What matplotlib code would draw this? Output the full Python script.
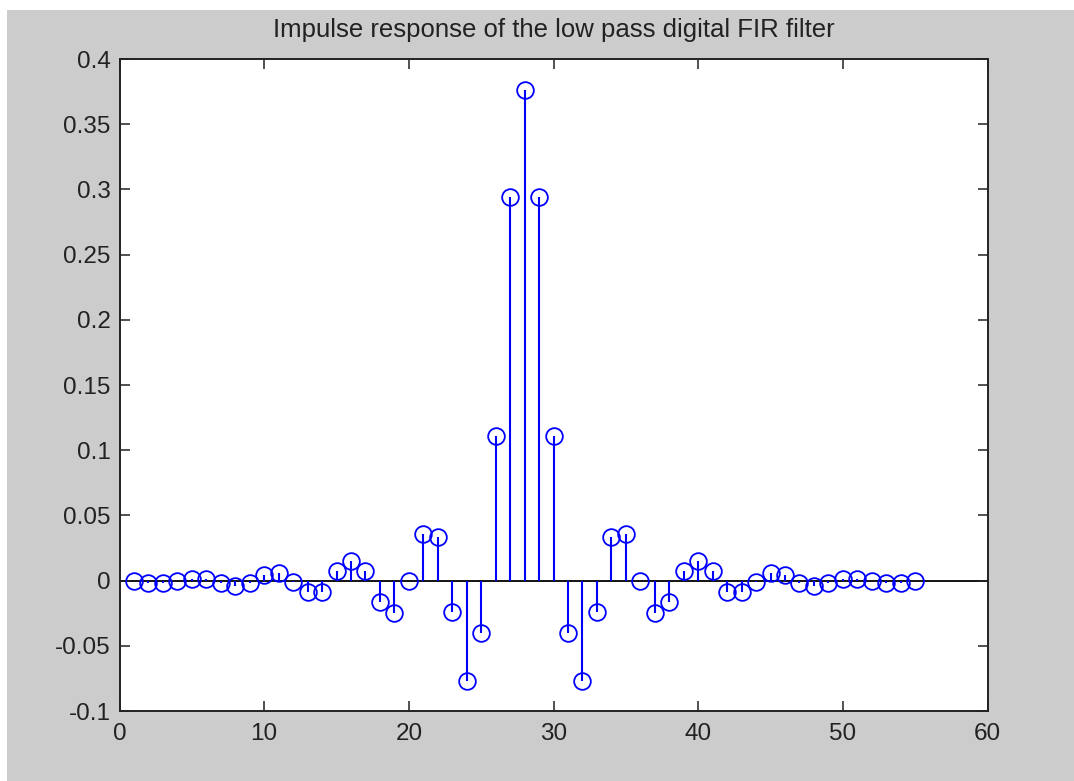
import matplotlib
matplotlib.use("Agg")
import matplotlib.pyplot as plt
from matplotlib.patches import Rectangle

# Filter tap index and impulse response coefficients
n = list(range(1, 56))
h = [0.0, -0.002, -0.002, 0.0, 0.001, 0.001, -0.0015, -0.0045, -0.0015, 0.004,
     0.0062, -0.001, -0.009, -0.009, 0.007, 0.015, 0.0077, -0.0167, -0.0246, 0.0,
     0.036, 0.0338, -0.024, -0.077, -0.040, 0.111, 0.294, 0.376, 0.294, 0.111,
     -0.040, -0.077, -0.024, 0.0338, 0.036, 0.0, -0.0246, -0.0167, 0.0077, 0.015,
     0.007, -0.009, -0.009, -0.001, 0.0062, 0.004, -0.0015, -0.0045, -0.0015, 0.001,
     0.001, 0.0, -0.002, -0.002, 0.0]

title = "Impulse response of the low pass digital FIR filter"
xticks = [0, 10, 20, 30, 40, 50, 60]
yticks = [-0.1, -0.05, 0, 0.05, 0.1, 0.15, 0.2, 0.25, 0.3, 0.35, 0.4]
ytick_labels = ["-0.1", "-0.05", "0", "0.05", "0.1", "0.15", "0.2", "0.25", "0.3", "0.35", "0.4"]

plt.rcParams["font.family"] = ["Liberation Sans", "DejaVu Sans"]

W, H = 1074, 781
fig = plt.figure(figsize=(W / 100, H / 100), dpi=100)
fig.patch.set_facecolor("white")
fig.patches.append(Rectangle((7 / W, 0), 1 - 7 / W, 1 - 10 / H,
                             transform=fig.transFigure, facecolor="#cccccc",
                             edgecolor="none", zorder=-10))

ax = fig.add_axes([119.5 / W, 1 - 711 / H, (987.5 - 119.5) / W, (711 - 59) / H])
ax.set_facecolor("white")

markerline, stemlines, baseline = ax.stem(n, h, linefmt="-", markerfmt="o", basefmt=" ")
stemlines.set_color("#0000ff")
stemlines.set_linewidth(1.5)
markerline.set_markerfacecolor("none")
markerline.set_markeredgecolor("#0000ff")
markerline.set_markersize(12)
markerline.set_markeredgewidth(1.3)
ax.axhline(0, color="black", linewidth=1.3, zorder=1)

ax.set_xlim(0, 60)
ax.set_ylim(-0.1, 0.4)
ax.set_xticks(xticks)
ax.set_yticks(yticks)
ax.set_yticklabels(ytick_labels)
ax.tick_params(direction="in", length=7, width=1.1, top=True, right=True,
               labelsize=17.5, colors="#222222")
ax.tick_params(axis="x", pad=8.5)
ax.tick_params(axis="y", pad=6.5)
for s in ax.spines.values():
    s.set_linewidth(1.4)
    s.set_color("#222222")

ax.set_title(title, fontsize=18.5, pad=16, color="#222222")

fig.savefig("out.png", dpi=100, facecolor=fig.get_facecolor())
